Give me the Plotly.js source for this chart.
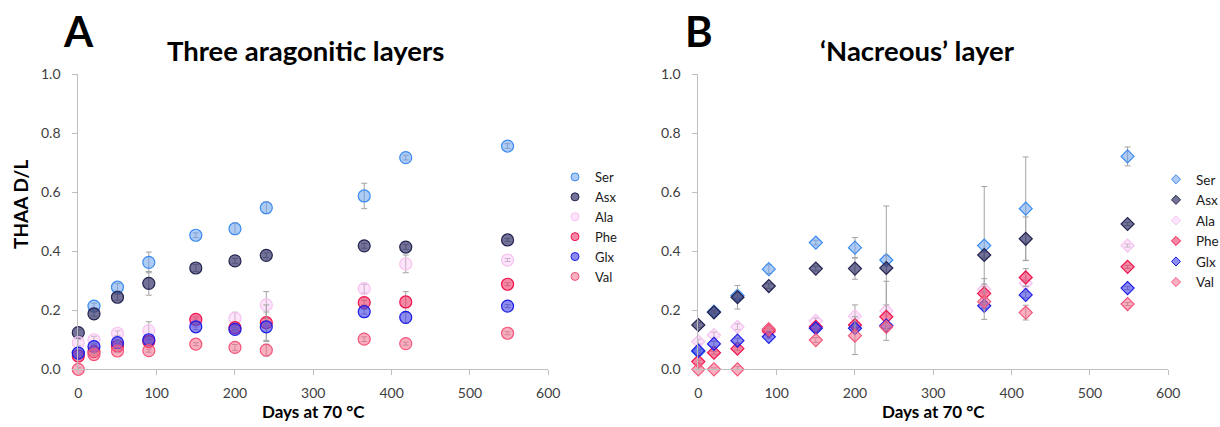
<!DOCTYPE html>
<html>
<head>
<meta charset="utf-8">
<script src="https://cdn.plot.ly/plotly-3.0.1.min.js"></script>
<style>
  html, body { margin: 0; padding: 0; background: #ffffff; }
  #chart { width: 1220px; height: 427px; }
</style>
</head>
<body>
<div id="chart"></div>
<script>
// Heating time (days at 70 °C)
const days = [0, 20, 50, 90, 150, 200, 240, 365, 418, 548];
const aminoAcids = ['Ser', 'Asx', 'Ala', 'Phe', 'Glx', 'Val'];

// Panel A: three aragonitic layers, THAA D/L
const aSer = [0.055, 0.214, 0.278, 0.362, 0.454, 0.476, 0.547, 0.587, 0.717, 0.756];
const aAsx = [0.124, 0.188, 0.244, 0.291, 0.343, 0.367, 0.386, 0.418, 0.414, 0.438];
const aAla = [0.090, 0.100, 0.122, 0.131, 0.162, 0.173, 0.218, 0.273, 0.357, 0.370];
const aPhe = [0.045, 0.060, 0.079, 0.094, 0.169, 0.141, 0.158, 0.226, 0.228, 0.288];
const aGlx = [0.055, 0.077, 0.090, 0.100, 0.144, 0.135, 0.144, 0.195, 0.176, 0.214];
const aVal = [0.000, 0.050, 0.062, 0.063, 0.085, 0.074, 0.065, 0.102, 0.087, 0.122];

// Panel A: error (±)
const aSerErr = [0.005, 0.010, 0.012, 0.035, 0.008, 0.020, 0.020, 0.043, 0.008, 0.008];
const aAsxErr = [0.010, 0.008, 0.010, 0.040, 0.012, 0.008, 0.008, 0.008, 0.008, 0.005];
const aAlaErr = [0.010, 0.012, 0.008, 0.030, 0.008, 0.020, 0.045, 0.015, 0.030, 0.005];
const aPheErr = [0.005, 0.005, 0.008, 0.008, 0.008, 0.008, 0.060, 0.008, 0.035, 0.005];
const aGlxErr = [0.005, 0.008, 0.008, 0.008, 0.010, 0.008, 0.050, 0.008, 0.020, 0.005];
const aValErr = [0.005, 0.005, 0.005, 0.005, 0.005, 0.010, 0.020, 0.008, 0.005, 0.005];

// Panel B: 'nacreous' layer, THAA D/L
const bSer = [0.060, 0.195, 0.250, 0.339, 0.429, 0.412, 0.370, 0.419, 0.544, 0.721];
const bAsx = [0.150, 0.193, 0.244, 0.282, 0.341, 0.341, 0.343, 0.387, 0.442, 0.492];
const bAla = [0.094, 0.116, 0.144, 0.125, 0.164, 0.180, 0.198, 0.271, 0.291, 0.419];
const bPhe = [0.026, 0.056, 0.070, 0.130, 0.144, 0.150, 0.178, 0.257, 0.311, 0.347];
const bGlx = [0.063, 0.086, 0.097, 0.110, 0.139, 0.139, 0.148, 0.215, 0.252, 0.275];
const bVal = [0.000, 0.000, 0.000, 0.136, 0.099, 0.114, 0.144, 0.229, 0.192, 0.221];

// Panel B: error (±)
const bSerErr = [0.005, 0.005, 0.010, 0.015, 0.008, 0.034, 0.015, 0.200, 0.175, 0.032];
const bAsxErr = [0.008, 0.005, 0.040, 0.008, 0.008, 0.036, 0.210, 0.010, 0.074, 0.005];
const bAlaErr = [0.008, 0.010, 0.010, 0.008, 0.010, 0.038, 0.100, 0.010, 0.010, 0.005];
const bPheErr = [0.005, 0.005, 0.005, 0.008, 0.008, 0.010, 0.040, 0.050, 0.030, 0.005];
const bGlxErr = [0.005, 0.008, 0.008, 0.005, 0.008, 0.008, 0.010, 0.010, 0.010, 0.005];
const bValErr = [0.005, 0.005, 0.010, 0.005, 0.008, 0.064, 0.010, 0.060, 0.025, 0.005];

const panelA = [aSer, aAsx, aAla, aPhe, aGlx, aVal];
const panelAErr = [aSerErr, aAsxErr, aAlaErr, aPheErr, aGlxErr, aValErr];
const panelB = [bSer, bAsx, bAla, bPhe, bGlx, bVal];
const panelBErr = [bSerErr, bAsxErr, bAlaErr, bPheErr, bGlxErr, bValErr];

// Marker fill (translucent) and outline per amino acid
const fills = [
  'rgba(105,160,235,0.55)',
  'rgba(40,40,100,0.65)',
  'rgba(250,195,245,0.45)',
  'rgba(240,55,105,0.6)',
  'rgba(55,55,230,0.58)',
  'rgba(245,110,140,0.55)'
];
const outlines = ['#3b8bf0', '#23234f', '#f6c2f0', '#f0124c', '#1c1ce6', '#f2557a'];

const W = 1220, H = 427;
const px = v => v / W;
const py = v => 1 - v / H;

const errStyle = arr => ({
  type: 'data', array: arr, visible: true,
  color: '#a3a3a3', thickness: 1, width: 3
});

const traces = [];
aminoAcids.forEach((name, i) => {
  traces.push({
    type: 'scatter', mode: 'markers', name: name,
    x: days, y: panelA[i], xaxis: 'x', yaxis: 'y',
    error_y: errStyle(panelAErr[i]),
    marker: { symbol: 'circle', size: 12, color: fills[i], line: { color: outlines[i], width: 1.2 } },
    cliponaxis: false, showlegend: false, hoverinfo: 'x+y+name'
  });
});
aminoAcids.forEach((name, i) => {
  traces.push({
    type: 'scatter', mode: 'markers', name: name,
    x: days, y: panelB[i], xaxis: 'x2', yaxis: 'y2',
    error_y: errStyle(panelBErr[i]),
    marker: { symbol: 'diamond', size: 10, color: fills[i], line: { color: outlines[i], width: 1.2 } },
    cliponaxis: false, showlegend: false, hoverinfo: 'x+y+name'
  });
});
// Legend keys
aminoAcids.forEach((name, i) => {
  traces.push({
    type: 'scatter', mode: 'markers', name: name, x: [null], y: [null],
    xaxis: 'x', yaxis: 'y', legend: 'legend',
    marker: { symbol: 'circle', size: 8, color: fills[i], line: { color: outlines[i], width: 1 } }
  });
});
aminoAcids.forEach((name, i) => {
  traces.push({
    type: 'scatter', mode: 'markers', name: name, x: [null], y: [null],
    xaxis: 'x2', yaxis: 'y2', legend: 'legend2',
    marker: { symbol: 'diamond', size: 7, color: fills[i], line: { color: outlines[i], width: 1 } }
  });
});

const FONT = 'Lato, "Open Sans", sans-serif';
const axisLine = '#bfbfbf';
const tickFont = { family: FONT, size: 14, color: '#404040' };

const xCommon = {
  range: [0, 600], dtick: 100, tick0: 0,
  showline: true, linecolor: axisLine, linewidth: 1,
  ticks: 'outside', ticklen: 5, tickcolor: axisLine,
  showgrid: false, zeroline: false, tickfont: tickFont,
  ticklabelstandoff: 6,
  title: { text: 'Days at 70 °C', font: { family: FONT, size: 17, color: '#000', weight: 'bold' }, standoff: 4 }
};
const yCommon = {
  range: [0, 1], dtick: 0.2, tick0: 0, tickformat: '.1f',
  showline: true, linecolor: axisLine, linewidth: 1,
  ticks: 'outside', ticklen: 5, tickcolor: axisLine,
  showgrid: false, zeroline: false, tickfont: tickFont,
  ticklabelstandoff: 9
};

const yDom = [57.7 / H, 1 - 74 / H];

const layout = {
  width: W, height: H,
  margin: { l: 0, r: 0, t: 0, b: 0, autoexpand: false },
  paper_bgcolor: '#ffffff', plot_bgcolor: '#ffffff',
  font: { family: FONT, color: '#000' },
  xaxis: Object.assign({}, xCommon, { domain: [px(78.3), px(548.3)], anchor: 'y' }),
  yaxis: Object.assign({}, yCommon, { domain: yDom, anchor: 'x' }),
  xaxis2: Object.assign({}, xCommon, { domain: [px(698.3), px(1168.3)], anchor: 'y2' }),
  yaxis2: Object.assign({}, yCommon, { domain: yDom, anchor: 'x2' }),
  legend: {
    x: px(555), y: py(162), xanchor: 'left', yanchor: 'top',
    font: { family: FONT, size: 13, color: '#1a1a1a' },
    bgcolor: 'rgba(0,0,0,0)', borderwidth: 0, itemsizing: 'trace'
  },
  legend2: {
    x: px(1156), y: py(164), xanchor: 'left', yanchor: 'top',
    font: { family: FONT, size: 13.5, color: '#1a1a1a' },
    bgcolor: 'rgba(0,0,0,0)', borderwidth: 0, itemsizing: 'trace'
  },
  annotations: [
    { text: '<b>A</b>', x: px(78), y: py(31), xref: 'paper', yref: 'paper',
      xanchor: 'center', yanchor: 'middle', showarrow: false,
      font: { family: FONT, size: 42, color: '#000' } },
    { text: '<b>B</b>', x: px(699), y: py(31), xref: 'paper', yref: 'paper',
      xanchor: 'center', yanchor: 'middle', showarrow: false,
      font: { family: FONT, size: 42, color: '#000' } },
    { text: '<b>Three aragonitic layers</b>', x: px(305), y: py(50), xref: 'paper', yref: 'paper',
      xanchor: 'center', yanchor: 'middle', showarrow: false,
      font: { family: FONT, size: 27.5, color: '#000' } },
    { text: '<b>‘Nacreous’ layer</b>', x: px(917), y: py(50), xref: 'paper', yref: 'paper',
      xanchor: 'center', yanchor: 'middle', showarrow: false,
      font: { family: FONT, size: 27.5, color: '#000' } },
    { text: '<b>THAA D/L</b>', x: px(20), y: py(205), xref: 'paper', yref: 'paper',
      xanchor: 'center', yanchor: 'middle', showarrow: false, textangle: -90,
      font: { family: FONT, size: 19, color: '#000' } }
  ],
  showlegend: true
};

Plotly.newPlot('chart', traces, layout, { displayModeBar: false, staticPlot: true });
</script>
</body>
</html>
